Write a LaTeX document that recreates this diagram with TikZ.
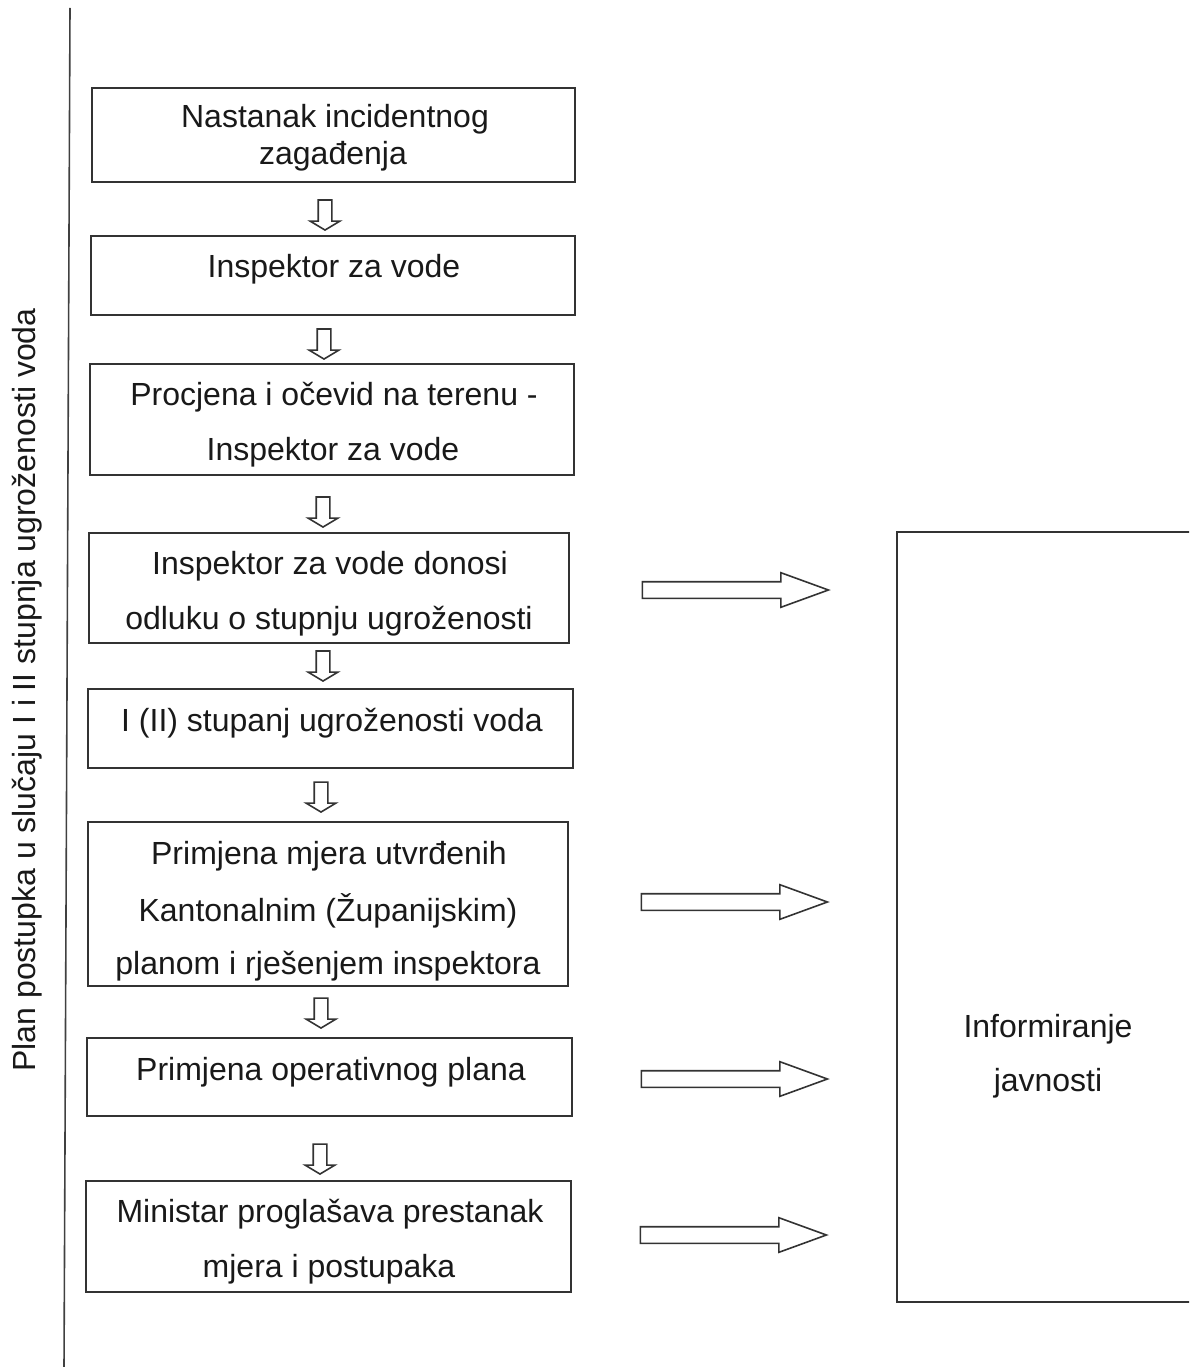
\documentclass[tikz,border=0pt]{standalone}
\usepackage{fontspec}
\setmainfont{Liberation Sans}
\usetikzlibrary{shapes.arrows}
\begin{document}
\begin{tikzpicture}[x=1pt,y=-1pt,
  every node/.style={inner sep=0pt},
  txt/.style={font=\fontsize{32}{38}\selectfont, text=black!90},
  box/.style={draw=black!80, line width=1.8pt, rectangle},
  darrow/.style={draw=black!80, line width=1.6pt, shape=single arrow, shape border rotate=270,
     inner sep=6pt, minimum height=30pt, single arrow head extend=8pt,
     single arrow tip angle=118, single arrow head indent=0pt},
  rarrow/.style={draw=black!80, line width=1.6pt, shape=single arrow,
     inner sep=7.5pt, minimum height=186pt, single arrow head extend=9pt,
     single arrow tip angle=40, single arrow head indent=0pt}
]
\useasboundingbox (0,0) rectangle (1189,1367);
\clip (0,0) rectangle (1189,1367);
% left vertical line
\coordinate (lt) at (70,8);
\coordinate (lb) at (64,1370);
\draw[black!75, line width=1.6pt] (lt) -- (lb);
\node[txt, rotate=90] (side) at (27,690) {Plan postupka u slučaju I i II stupnja ugroženosti voda};

% boxes
\node[box, minimum width=483pt, minimum height=94pt] (b1) at (333.5,135) {};
\node[box, minimum width=484pt, minimum height=79pt] (b2) at (333,275.5) {};
\node[box, minimum width=484pt, minimum height=111pt] (b3) at (332,419.5) {};
\node[box, minimum width=480pt, minimum height=110pt] (b4) at (329,588) {};
\node[box, minimum width=485pt, minimum height=79pt] (b5) at (330.5,728.5) {};
\node[box, minimum width=480pt, minimum height=164pt] (b6) at (328,904) {};
\node[box, minimum width=485pt, minimum height=78pt] (b7) at (329.5,1077) {};
\node[box, minimum width=485pt, minimum height=111pt] (b8) at (328.5,1236.5) {};

% texts
\node[txt] (t1a) at (335,119) {Nastanak incidentnog};
\node[txt] (t1b) at (333,156) {zagađenja};
\node[txt] (t2) at (334,269) {Inspektor za vode};
\node[txt] (t3a) at (334,397) {Procjena i očevid na terenu -};
\node[txt] (t3b) at (333,452) {Inspektor za vode};
\node[txt] (t4a) at (330,566) {Inspektor za vode donosi};
\node[txt] (t4b) at (329,621) {odluku o stupnju ugroženosti};
\node[txt] (t5) at (332,723) {I (II) stupanj ugroženosti voda};
\node[txt] (t6a) at (329,856) {Primjena mjera utvrđenih};
\node[txt] (t6b) at (328,911) {Kantonalnim (Županijskim)};
\node[txt] (t6c) at (328,966) {planom i rješenjem inspektora};
\node[txt] (t7) at (331,1072) {Primjena operativnog plana};
\node[txt] (t8a) at (330,1214) {Ministar proglašava prestanak};
\node[txt] (t8b) at (329,1269) {mjera i postupaka};

% down arrows
\node[darrow] (d1) at (325,213) {};
\node[darrow] (d2) at (324,342) {};
\node[darrow] (d3) at (323,510) {};
\node[darrow] (d4) at (323,664) {};
\node[darrow] (d5) at (321,795) {};
\node[darrow] (d6) at (321,1011) {};
\node[darrow] (d7) at (320,1157) {};

% right arrows
\node[rarrow] (r1) at (724,590) {};
\node[rarrow] (r2) at (723,902) {};
\node[rarrow] (r3) at (723,1079) {};
\node[rarrow] (r4) at (722,1235) {};

% right box
\node[box, minimum width=373pt, minimum height=770pt] (inf) at (1083.5,917) {};
\node[txt] (ti1) at (1048,1029) {Informiranje};
\node[txt] (ti2) at (1048,1083) {javnosti};
\end{tikzpicture}
\end{document}
